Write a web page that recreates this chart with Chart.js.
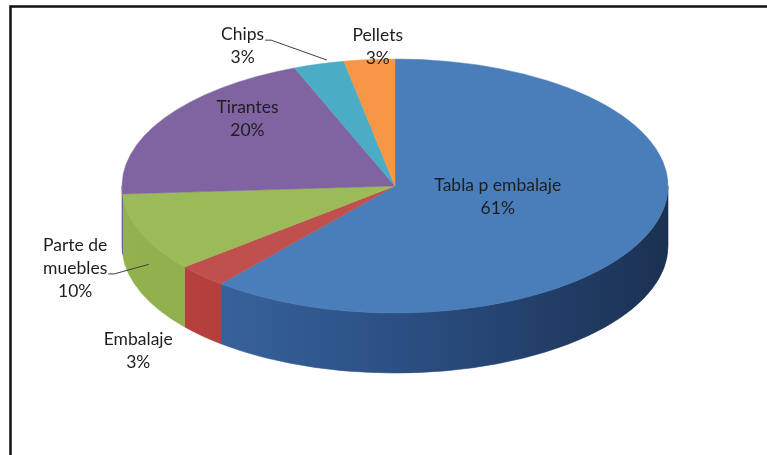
<!DOCTYPE html>
<html>
<head>
<meta charset="utf-8">
<script src="https://cdn.jsdelivr.net/npm/chart.js@4"></script>
<style>
  html, body { margin: 0; padding: 0; background: #ffffff; }
  #wrap { width: 767px; height: 455px; position: relative; }
</style>
</head>
<body>
<div id="wrap"><canvas id="c" width="767" height="455"></canvas></div>
<script>
// ---- data ----
const categories = ['Tabla p embalaje', 'Embalaje', ['Parte de', 'muebles'], 'Tirantes', 'Chips', 'Pellets'];
const values = [61, 3, 10, 20, 3, 3];
const topColors = ['#4a7ebb', '#c0504d', '#9bbb59', '#8064a2', '#4bacc6', '#f79646'];
const sideColors = [['#3f6ca8', '#2b5084', '#1b3152'], ['#b8413d', '#ad3b38', '#9e3431'], ['#93b24f', '#86a548', '#7b9a40'], ['#6d5590', '#6d5590', '#6d5590'], ['#3f96ad', '#3f96ad', '#3f96ad'], ['#d9803b', '#d9803b', '#d9803b']];

// ---- layout (not data) ----
const pie3d = { X: 395, Y: 186, rx: 273, ry: 127, depth: 60 };
const labelLayout = [
  { r: 0.40, dx: 0,   dy: -6 },
  { r: 1.33, dx: 0,   dy: 45 },
  { r: 1.26, dx: 0,   dy: 23, leader: 1, leaderDrop: 0.55, leaderR: 0.97 },
  { r: 0.64, dx: 0,   dy: -24 },
  { r: 1.20, dx: -61, dy: 6,  leader: 0, leaderDrop: 0, leaderR: 1.0, leaderDX: 8, leaderDY: -4 },
  { r: 1.10, dx: 11,  dy: 0 }
];
const FONT = '17.5px Lato, "Open Sans", sans-serif';
const LINE_H = 23;

const pie3dPlugin = {
  id: 'pie3d',
  beforeDraw(chart) {
    const ctx = chart.ctx;
    ctx.save();
    ctx.fillStyle = '#ffffff';
    ctx.fillRect(0, 0, chart.width, chart.height);
    ctx.strokeStyle = '#111111';
    ctx.lineWidth = 2.5;
    ctx.beginPath();
    ctx.moveTo(10.5, 455);
    ctx.lineTo(10.5, 6.5);
    ctx.lineTo(767, 6.5);
    ctx.stroke();
    ctx.restore();
  },
  beforeDatasetsDraw(chart) {
    const ctx = chart.ctx;
    const meta = chart.getDatasetMeta(0);
    const { X, Y, rx, ry, depth } = pie3d;
    // side walls (front half only: canvas angles 0..PI)
    meta.data.forEach((el, i) => {
      const a = Math.max(el.startAngle, 0);
      const b = Math.min(el.endAngle, Math.PI);
      if (a >= b) return;
      const g = ctx.createLinearGradient(X - rx, 0, X + rx, 0);
      g.addColorStop(0, sideColors[i][0]);
      g.addColorStop(0.5, sideColors[i][1]);
      g.addColorStop(1, sideColors[i][2]);
      ctx.save();
      ctx.beginPath();
      ctx.ellipse(X, Y, rx, ry, 0, a, b, false);
      ctx.lineTo(X + rx * Math.cos(b), Y + depth + ry * Math.sin(b));
      ctx.ellipse(X, Y + depth, rx, ry, 0, b, a, true);
      ctx.closePath();
      ctx.fillStyle = g;
      ctx.fill();
      ctx.strokeStyle = g;
      ctx.lineWidth = 0.6;
      ctx.stroke();
      ctx.restore();
    });
    // transform so the library's arcs become the elliptical top face
    const el0 = meta.data[0];
    const R = el0.outerRadius;
    ctx.save();
    ctx.translate(X, Y);
    ctx.scale(rx / R, ry / R);
    ctx.translate(-el0.x, -el0.y);
  },
  afterDatasetsDraw(chart) {
    const ctx = chart.ctx;
    ctx.restore();
    const meta = chart.getDatasetMeta(0);
    const { X, Y, rx, ry, depth } = pie3d;
    const total = values.reduce((s, v) => s + v, 0);
    ctx.save();
    ctx.font = FONT;
    ctx.textAlign = 'center';
    ctx.textBaseline = 'middle';
    meta.data.forEach((el, i) => {
      const L = labelLayout[i];
      const mid = (el.startAngle + el.endAngle) / 2;
      const ax = X + rx * L.r * Math.cos(mid) + L.dx;
      const ay = Y + ry * L.r * Math.sin(mid) + L.dy;
      const name = categories[i];
      const lines = (Array.isArray(name) ? name.slice() : [name]);
      lines.push(Math.round(values[i] / total * 100) + '%');
      const n = lines.length;
      ctx.fillStyle = '#1e1e1e';
      lines.forEach((t, k) => {
        ctx.fillText(t, ax, ay + (k - (n - 1) / 2) * LINE_H);
      });
      if (L.leader !== undefined) {
        const k = L.leader;
        const w = ctx.measureText(lines[k]).width;
        const sx = ax + w / 2 + 1;
        const sy = ay + (k - (n - 1) / 2) * LINE_H + 6;
        const tx = X + rx * L.leaderR * Math.cos(mid) + (L.leaderDX || 0);
        const ty = Y + ry * L.leaderR * Math.sin(mid) + depth * L.leaderDrop + (L.leaderDY || 0);
        ctx.strokeStyle = '#404040';
        ctx.lineWidth = 1;
        ctx.beginPath();
        ctx.moveTo(sx, sy);
        ctx.lineTo(sx + 6, sy);
        ctx.lineTo(tx, ty);
        ctx.stroke();
      }
    });
    ctx.restore();
  }
};

new Chart(document.getElementById('c'), {
  type: 'pie',
  data: {
    labels: categories.map(c => Array.isArray(c) ? c.join(' ') : c),
    datasets: [{
      data: values,
      backgroundColor: topColors,
      borderWidth: 0.5,
      borderColor: topColors
    }]
  },
  options: {
    responsive: false,
    animation: false,
    events: [],
    layout: { padding: 20 },
    plugins: { legend: { display: false }, tooltip: { enabled: false } }
  },
  plugins: [pie3dPlugin]
});
</script>
</body>
</html>
